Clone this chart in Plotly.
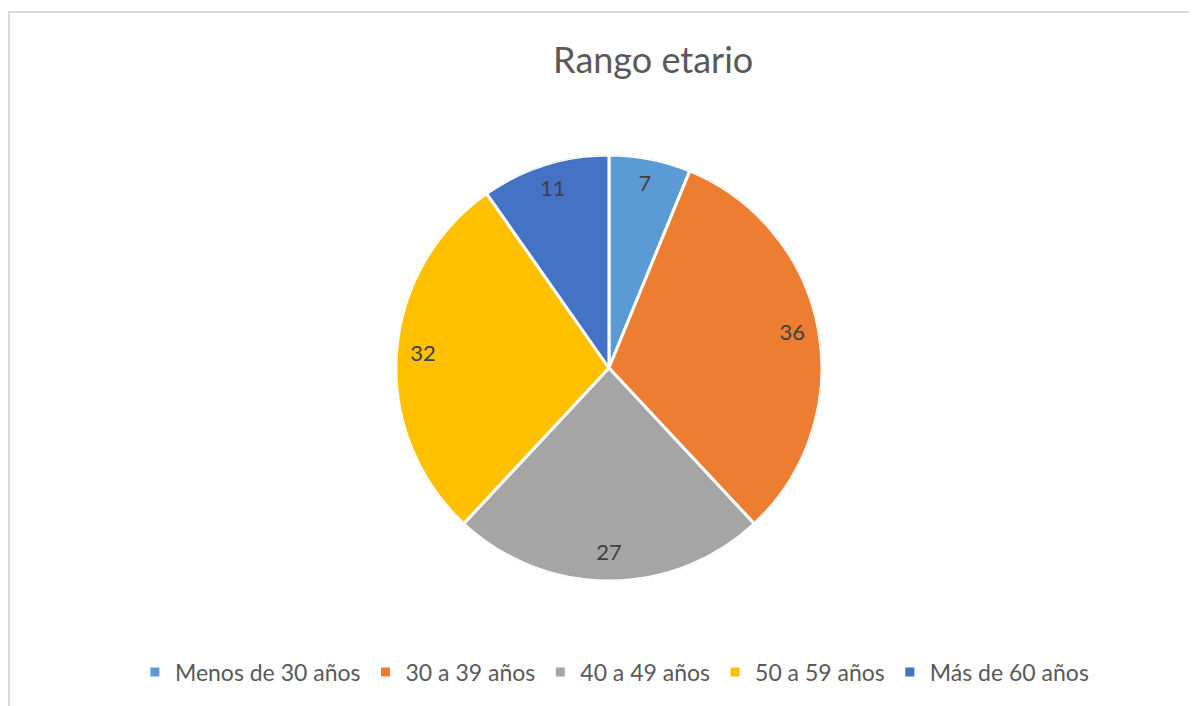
import plotly.graph_objects as go

# datos
categorias = ["Menos de 30 años", "30 a 39 años", "40 a 49 años", "50 a 59 años", "Más de 60 años"]
valores = [7, 36, 27, 32, 11]
colores = ["#5B9BD5", "#ED7D31", "#A5A5A5", "#FFC000", "#4472C4"]

W, H = 1197, 706
dom_x = [0.3241, 0.6800]
dom_y = [0.1884, 0.7918]

# angulo medio y ancho angular de cada porcion
total = sum(valores)
acum = 0
theta_mid = []
anchos = []
for v in valores:
    theta_mid.append((acum + v / 2) / total * 360)
    anchos.append(v / total * 360)
    acum += v

fig = go.Figure()

for cat, v, col, th, w in zip(categorias, valores, colores, theta_mid, anchos):
    fig.add_trace(go.Barpolar(
        r=[1],
        theta=[th],
        width=[w],
        name=cat,
        marker=dict(color=col, line=dict(color="#ffffff", width=3)),
        hovertemplate=cat + ": " + str(v) + "<extra></extra>",
    ))

fig.add_trace(go.Scatterpolar(
    r=[0.875] * len(valores),
    theta=theta_mid,
    mode="text",
    text=[str(v) for v in valores],
    textfont=dict(size=22, color="#404040", family="Lato"),
    showlegend=False,
    hoverinfo="skip",
))

fig.update_layout(
    width=W,
    height=H,
    margin=dict(l=0, r=0, t=0, b=0),
    paper_bgcolor="#ffffff",
    plot_bgcolor="#ffffff",
    font=dict(family="Lato", color="#595959"),
    title=dict(text="Rango etario", x=0.539, xanchor="center", y=0.926, yanchor="middle",
               font=dict(size=36, color="#595959", family="Lato")),
    polar=dict(
        domain=dict(x=dom_x, y=dom_y),
        bgcolor="rgba(0,0,0,0)",
        bargap=0,
        angularaxis=dict(rotation=90, direction="clockwise", visible=False),
        radialaxis=dict(range=[0, 1], visible=False),
    ),
    legend=dict(
        orientation="h",
        x=0.507, xanchor="center",
        y=0.0595, yanchor="middle",
        font=dict(size=23, color="#595959", family="Lato"),
        traceorder="normal",
    ),
    shapes=[
        dict(type="line", xref="paper", yref="paper", x0=0, x1=1, y0=1 - 4 / H, y1=1 - 4 / H,
             line=dict(color="#D9D9D9", width=2)),
        dict(type="line", xref="paper", yref="paper", x0=1 / W, x1=1 / W, y0=0, y1=1 - 4 / H,
             line=dict(color="#D9D9D9", width=2)),
    ],
)

fig.write_html("out.html")
